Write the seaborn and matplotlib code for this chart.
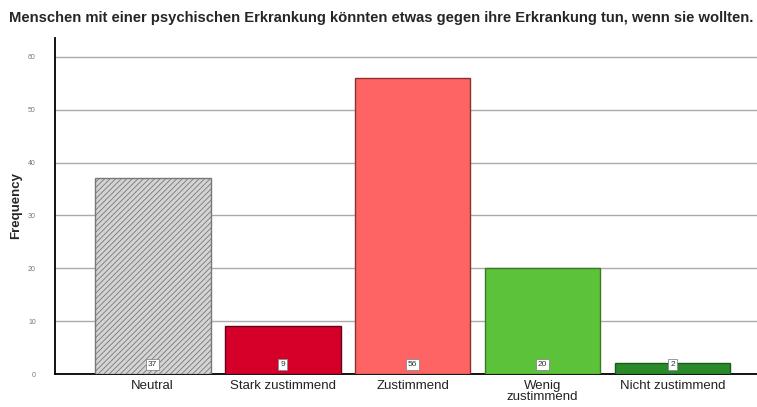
import matplotlib
matplotlib.use("Agg")
import matplotlib.pyplot as plt
import seaborn as sns
import pandas as pd

# data
categories = ["Neutral", "Stark zustimmend", "Zustimmend", "Wenig\nzustimmend", "Nicht zustimmend"]
counts = [37, 9, 56, 20, 2]
colors = ["#d4d4d4", "#d4002a", "#ff6464", "#5cc23a", "#2a8a2a"]
edges = ["#777777", "#6a0018", "#8a3030", "#3a7a24", "#1a5a1a"]

title = "Menschen mit einer psychischen Erkrankung könnten etwas gegen ihre Erkrankung tun, wenn sie wollten."


def main():
    df = pd.DataFrame({"cat": categories, "n": counts})

    sns.set_style("white")
    plt.rcParams["font.family"] = ["Liberation Sans", "DejaVu Sans"]
    plt.rcParams["hatch.linewidth"] = 0.6

    fig = plt.figure(figsize=(7.57, 4.07), dpi=100)
    ax = fig.add_axes([0.073, 0.081, 0.927, 0.826])

    sns.barplot(data=df, x="cat", y="n", hue="cat", palette=colors, saturation=1,
                width=0.89, legend=False, ax=ax, zorder=3)

    for i, patch in enumerate(ax.patches):
        patch.set_edgecolor(edges[i])
        patch.set_linewidth(1.0)
    ax.patches[0].set_hatch("//////")

    # value labels in small boxes near the bottom of each bar
    for i, v in enumerate(counts):
        ax.text(i, 1.8, str(v), ha="center", va="center", fontsize=6, color="#333333",
                zorder=5, bbox=dict(boxstyle="square,pad=0.25", fc="white", ec="#888888", lw=0.6))

    ax.set_xlim(-0.75, 4.65)
    ax.set_ylim(0, 63.6)
    ax.set_yticks(range(0, 61, 10))
    ax.yaxis.grid(True, color="#aaaaaa", lw=1.0, zorder=0)
    ax.tick_params(axis="y", labelsize=5, labelcolor="#777777", length=0, pad=14)
    ax.tick_params(axis="x", labelsize=9.5, labelcolor="#222222", length=0, pad=4)
    for lbl in ax.get_xticklabels():
        lbl.set_linespacing(0.9)

    ax.set_xlabel("")
    ax.set_ylabel("Frequency", fontsize=9.5, fontweight="bold", labelpad=4)

    for s in ["top", "right"]:
        ax.spines[s].set_visible(False)
    ax.spines["left"].set_linewidth(1.3)
    ax.spines["bottom"].set_linewidth(1.3)
    ax.spines["left"].set_color("black")
    ax.spines["bottom"].set_color("black")

    fig.text(0.012, 0.955, title, fontsize=10.6, fontweight="bold", ha="left", va="center")

    fig.savefig("out.png", dpi=100)
    plt.close(fig)


if __name__ == "__main__":
    main()
